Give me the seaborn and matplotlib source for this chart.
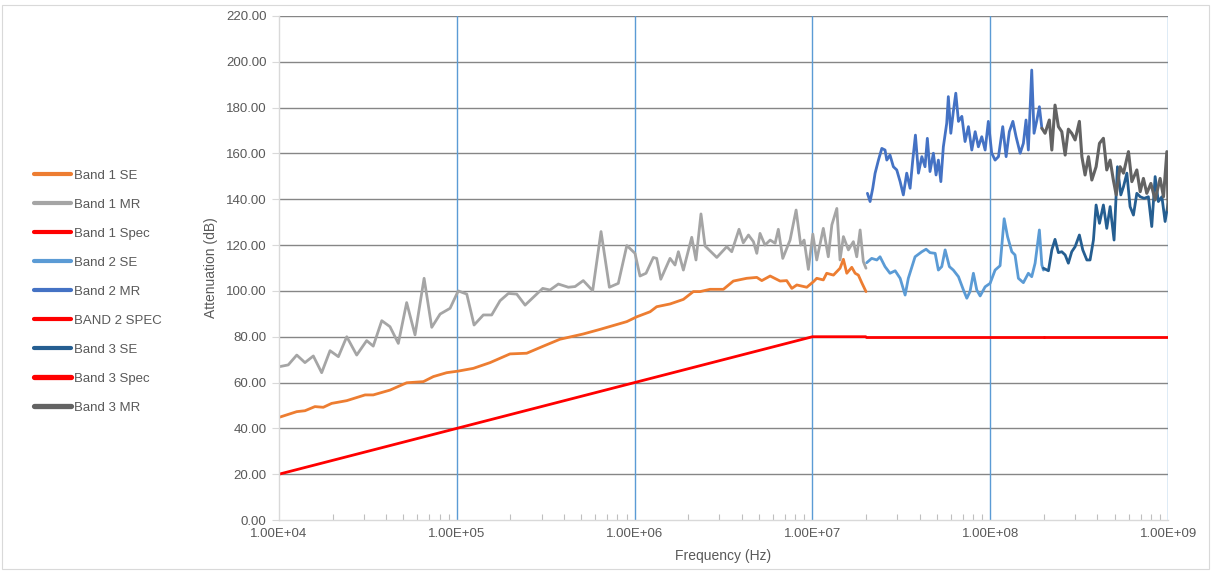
import numpy as np
import pandas as pd
import matplotlib
matplotlib.use("Agg")
import matplotlib.pyplot as plt
import matplotlib.ticker as mticker
import seaborn as sns

# ---------------- data (frequency given as log10(Hz)) ----------------
b1_se_logf = [4.000, 4.100, 4.146, 4.202, 4.249, 4.296, 4.381, 4.484, 4.530, 4.624, 4.718, 4.812, 4.868,
              4.943, 5.008, 5.093, 5.187, 5.299, 5.393, 5.487, 5.580, 5.711, 5.805, 5.956, 6.012, 6.087,
              6.124, 6.199, 6.274, 6.330, 6.368, 6.424, 6.499, 6.555, 6.630, 6.687, 6.715, 6.762, 6.818,
              6.855, 6.884, 6.912, 6.968, 7.005, 7.024, 7.061, 7.080, 7.118, 7.155, 7.174, 7.193, 7.221,
              7.240, 7.258, 7.277, 7.301]
b1_se_db = [44.8, 47.3, 47.7, 49.5, 49.2, 50.9, 52.1, 54.6, 54.6, 56.7, 59.9, 60.4, 62.6,
            64.3, 65.0, 66.2, 68.7, 72.5, 72.8, 75.9, 78.9, 81.2, 83.2, 86.6, 88.7, 90.9,
            93.1, 94.3, 96.3, 99.7, 99.7, 100.7, 100.7, 104.3, 105.5, 105.9, 104.5, 106.5, 104.3,
            104.5, 101.1, 102.6, 101.6, 104.0, 105.5, 104.8, 107.7, 106.9, 109.9, 113.8, 107.7, 110.3,
            107.7, 106.9, 103.6, 99.7]

b1_mr_logf = [4.000, 4.052, 4.100, 4.146, 4.193, 4.240, 4.287, 4.334, 4.381, 4.437, 4.493, 4.530, 4.578,
              4.624, 4.671, 4.718, 4.765, 4.816, 4.859, 4.906, 4.962, 5.008, 5.056, 5.097, 5.149, 5.196,
              5.243, 5.290, 5.337, 5.384, 5.430, 5.483, 5.524, 5.571, 5.627, 5.665, 5.711, 5.764, 5.811,
              5.858, 5.908, 5.956, 6.002, 6.030, 6.064, 6.105, 6.124, 6.147, 6.199, 6.227, 6.246, 6.274,
              6.321, 6.345, 6.373, 6.396, 6.462, 6.518, 6.546, 6.587, 6.611, 6.640, 6.668, 6.687, 6.705,
              6.733, 6.762, 6.790, 6.808, 6.833, 6.874, 6.908, 6.934, 6.953, 6.977, 7.002, 7.024, 7.061,
              7.089, 7.109, 7.137, 7.155, 7.174, 7.202, 7.230, 7.249, 7.268, 7.286, 7.301]
b1_mr_db = [66.9, 67.7, 72.0, 68.7, 71.6, 64.3, 73.9, 71.3, 80.0, 72.0, 78.3, 75.9, 87.0,
            84.4, 77.1, 94.9, 80.8, 105.5, 84.1, 89.9, 92.4, 100.0, 98.6, 85.1, 89.5, 89.5,
            95.7, 98.9, 98.6, 93.8, 97.2, 101.1, 100.4, 103.0, 101.6, 101.9, 104.5, 100.1, 125.9,
            101.6, 103.3, 119.8, 116.4, 106.5, 107.7, 114.6, 114.2, 105.1, 114.2, 111.3, 117.1, 109.1,
            123.4, 113.5, 133.6, 119.6, 114.6, 119.3, 117.1, 126.9, 121.0, 124.4, 121.5, 116.4, 125.1,
            120.0, 122.2, 120.8, 126.9, 114.2, 122.2, 135.3, 120.0, 122.2, 109.4, 124.8, 113.5, 127.3,
            114.9, 128.8, 136.0, 113.5, 123.7, 117.9, 121.5, 114.9, 126.6, 112.8, 109.9]

b1_spec_logf = [4.0, 7.0, 7.3]
b1_spec_db = [20.0, 80.0, 80.0]

b2_se_logf = [7.305, 7.333, 7.362, 7.380, 7.408, 7.436, 7.465, 7.493, 7.521, 7.539, 7.577, 7.615, 7.639,
              7.661, 7.690, 7.708, 7.727, 7.746, 7.770, 7.792, 7.821, 7.849, 7.868, 7.886, 7.905, 7.924,
              7.943, 7.971, 7.999, 8.027, 8.055, 8.078, 8.097, 8.121, 8.139, 8.158, 8.186, 8.214, 8.233,
              8.252, 8.276, 8.290, 8.299]
b2_se_db = [112.3, 114.2, 113.5, 114.9, 110.6, 107.7, 108.8, 105.5, 98.2, 105.5, 114.9, 117.1, 118.2,
            116.7, 116.4, 109.1, 110.6, 117.9, 110.6, 109.1, 106.2, 100.4, 96.8, 99.7, 107.7, 100.4,
            97.8, 101.8, 103.3, 109.1, 111.0, 131.5, 123.7, 117.1, 115.7, 105.5, 103.6, 107.7, 106.2,
            112.1, 126.6, 111.3, 109.1]

b2_mr_logf = [7.309, 7.324, 7.339, 7.352, 7.371, 7.390, 7.408, 7.418, 7.436, 7.455, 7.474, 7.493, 7.511,
              7.530, 7.549, 7.564, 7.579, 7.596, 7.615, 7.633, 7.646, 7.661, 7.680, 7.695, 7.708, 7.722,
              7.736, 7.755, 7.764, 7.778, 7.792, 7.806, 7.821, 7.840, 7.858, 7.877, 7.896, 7.915, 7.933,
              7.952, 7.971, 7.989, 8.008, 8.027, 8.046, 8.070, 8.089, 8.107, 8.127, 8.145, 8.168, 8.186,
              8.201, 8.214, 8.233, 8.246, 8.262, 8.276, 8.290]
b2_mr_db = [142.6, 139.0, 144.8, 151.3, 157.1, 162.2, 161.5, 157.1, 159.3, 154.2, 152.8, 147.7, 141.9,
            151.4, 144.8, 157.1, 168.0, 151.4, 158.6, 154.2, 166.6, 152.1, 160.1, 150.6, 157.1, 147.7,
            162.9, 173.2, 184.8, 168.8, 178.2, 186.3, 174.0, 176.2, 165.2, 171.7, 161.5, 169.5, 162.9,
            167.3, 161.5, 174.0, 160.1, 157.1, 158.6, 171.7, 158.6, 169.5, 174.0, 167.3, 160.1, 164.4,
            174.6, 161.5, 196.4, 168.8, 174.6, 180.4, 171.0]

b2_spec_logf = [7.3, 8.3]
b2_spec_db = [80.0, 80.0]

b3_se_logf = [8.299, 8.327, 8.346, 8.364, 8.383, 8.402, 8.421, 8.439, 8.458, 8.477, 8.501, 8.520, 8.543,
              8.561, 8.580, 8.595, 8.614, 8.636, 8.655, 8.674, 8.696, 8.715, 8.734, 8.749, 8.768, 8.786,
              8.805, 8.824, 8.843, 8.865, 8.889, 8.908, 8.927, 8.945, 8.965, 8.983, 9.000]
b3_se_db = [109.9, 108.8, 117.9, 122.5, 116.7, 117.1, 115.7, 112.1, 117.1, 119.3, 124.4, 117.9, 113.5,
            113.5, 122.2, 137.5, 129.5, 137.5, 127.3, 136.8, 122.2, 154.2, 141.9, 145.5, 151.4, 136.8,
            133.1, 142.6, 141.1, 140.4, 141.1, 128.1, 149.9, 139.0, 141.1, 130.3, 138.2]

b3_spec_logf = [8.3, 9.0]
b3_spec_db = [80.0, 80.0]

b3_mr_logf = [8.290, 8.308, 8.332, 8.346, 8.364, 8.383, 8.402, 8.421, 8.439, 8.458, 8.477, 8.501, 8.515,
              8.533, 8.552, 8.571, 8.595, 8.614, 8.636, 8.655, 8.674, 8.692, 8.708, 8.730, 8.749, 8.777,
              8.796, 8.824, 8.843, 8.861, 8.880, 8.903, 8.927, 8.955, 8.974, 8.993, 9.000]
b3_mr_db = [171.0, 168.8, 174.6, 161.5, 181.1, 171.7, 169.5, 159.3, 170.6, 168.8, 165.9, 174.0, 158.6,
            150.6, 158.6, 148.4, 154.2, 164.4, 166.6, 152.8, 157.1, 148.4, 141.9, 154.2, 151.4, 160.8,
            147.7, 152.8, 143.3, 149.1, 142.6, 146.9, 139.7, 149.1, 141.1, 160.8, 135.3]

series = [
    ("Band 1 SE", b1_se_logf, b1_se_db, "#ED7D31", 2.0, 3.0),
    ("Band 1 MR", b1_mr_logf, b1_mr_db, "#A5A5A5", 2.0, 3.0),
    ("Band 1 Spec", b1_spec_logf, b1_spec_db, "#FF0000", 2.0, 3.0),
    ("Band 2 SE", b2_se_logf, b2_se_db, "#5B9BD5", 2.0, 3.0),
    ("Band 2 MR", b2_mr_logf, b2_mr_db, "#4472C4", 2.0, 3.0),
    ("BAND 2 SPEC", b2_spec_logf, b2_spec_db, "#FF0000", 2.0, 3.0),
    ("Band 3 SE", b3_se_logf, b3_se_db, "#255E91", 2.0, 3.0),
    ("Band 3 Spec", b3_spec_logf, b3_spec_db, "#FF0000", 2.0, 3.8),
    ("Band 3 MR", b3_mr_logf, b3_mr_db, "#636363", 2.2, 3.8),
]

# ---------------- figure ----------------
sns.set_theme(style="white")
plt.rcParams["font.family"] = ["Liberation Sans", "DejaVu Sans"]

fig = plt.figure(figsize=(12.13, 5.71), dpi=100)
ax = fig.add_axes([0.230, 0.0893, 0.733, 0.8827])

for name, lf, db, col, lw, llw in series:
    df = pd.DataFrame({"Frequency": np.power(10.0, np.array(lf)), "dB": db})
    sns.lineplot(data=df, x="Frequency", y="dB", ax=ax, color=col, linewidth=lw,
                 label=name, estimator=None, sort=False)

ax.set_xscale("log")
ax.set_xlim(1e4, 1e9)
ax.set_ylim(0, 220)
ax.set_yticks(np.arange(0, 221, 20))
ax.yaxis.set_major_formatter(mticker.FormatStrFormatter("%.2f"))
ax.xaxis.set_major_locator(mticker.LogLocator(base=10, numticks=10))
ax.xaxis.set_major_formatter(mticker.FuncFormatter(lambda v, p: "{:.2E}".format(v)))
ax.xaxis.set_minor_locator(mticker.LogLocator(base=10, subs=np.arange(2, 10), numticks=20))
ax.xaxis.set_minor_formatter(mticker.NullFormatter())

ax.grid(False)
for yv in np.arange(20, 221, 20):
    ax.axhline(yv, color="#868686", linewidth=1.0, zorder=0.5)
for xv in [1e5, 1e6, 1e7, 1e8, 1e9]:
    ax.axvline(xv, color="#5B9BD5", linewidth=1.0, zorder=0.6)

for s in ["top", "right"]:
    ax.spines[s].set_visible(False)
for s in ["left", "bottom"]:
    ax.spines[s].set_color("#D9D9D9")
    ax.spines[s].set_linewidth(1.0)

ax.tick_params(axis="y", which="major", direction="out", length=5, width=0.8,
               color="#D9D9D9", labelsize=9.5, labelcolor="#595959", left=True, pad=4)
ax.tick_params(axis="x", which="major", direction="out", length=0, width=0.8,
               color="#D9D9D9", labelsize=9.5, labelcolor="#595959", bottom=True, pad=6)
ax.tick_params(axis="x", which="minor", direction="in", length=4, width=0.8,
               color="#BFBFBF", bottom=True)

ax.set_xlabel("Frequency (Hz)", fontsize=10, color="#595959", labelpad=6)
ax.set_ylabel("Attenuation (dB)", fontsize=10, color="#595959", labelpad=6)

handles, labels = ax.get_legend_handles_labels()
ax.get_legend().remove()
leg = fig.legend(handles, labels, loc="upper left", bbox_to_anchor=(0.024, 0.712),
                 frameon=False, fontsize=9.5, handlelength=2.8, handletextpad=0.2,
                 labelspacing=1.27, borderaxespad=0)
for t in leg.get_texts():
    t.set_color("#595959")
for h, (_, _, _, _, _, llw) in zip(leg.get_lines(), series):
    h.set_linewidth(llw)

# chart-area border
fig.patches.append(plt.Rectangle((0.002, 0.004), 0.995, 0.988, transform=fig.transFigure,
                                 fill=False, edgecolor="#D9D9D9", linewidth=0.8))

fig.savefig("out.png", dpi=100, facecolor="white")
